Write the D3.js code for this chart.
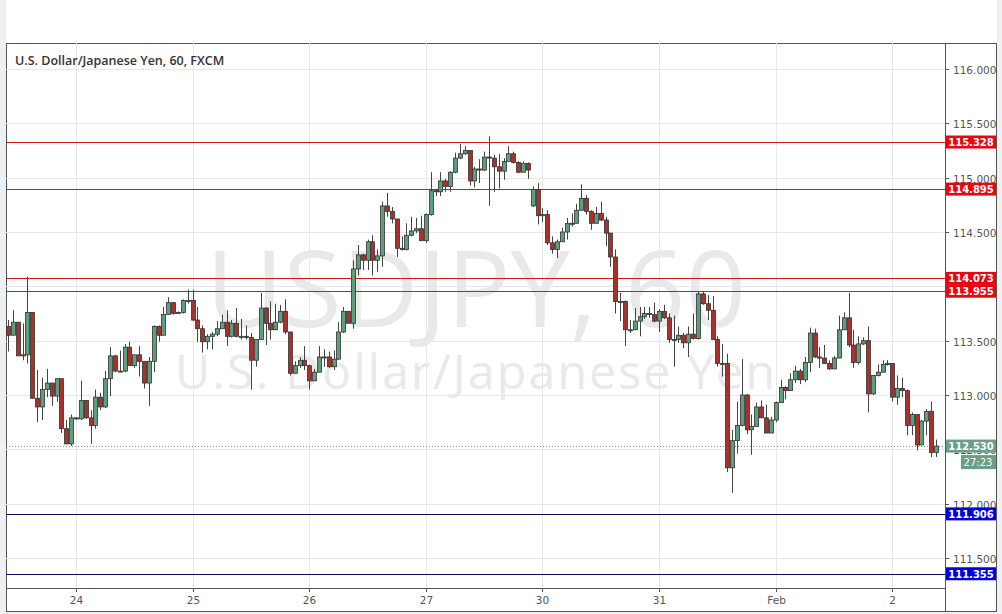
<!DOCTYPE html>
<html><head><meta charset="utf-8">
<script src="https://cdn.jsdelivr.net/npm/d3@7/dist/d3.min.js"></script>
<style>body{margin:0;background:#eef1f4}svg{display:block}</style>
</head><body><svg id="c" width="1002" height="614"></svg>
<script>
const closes=[113.55,113.67,113.36,113.37,113.76,112.97,112.89,113.05,113.11,112.99,113.15,112.69,112.55,112.79,112.78,112.95,112.79,112.72,112.98,112.89,113.15,113.36,113.22,113.22,113.44,113.27,113.37,113.31,113.11,113.31,113.63,113.55,113.74,113.85,113.75,113.76,113.87,113.87,113.69,113.61,
113.49,113.54,113.56,113.61,113.67,113.54,113.66,113.54,113.54,113.53,113.32,113.51,113.80,113.66,113.60,113.67,113.77,113.58,113.20,113.27,113.32,113.27,113.13,113.21,113.35,113.35,113.26,113.33,113.58,113.77,113.66,114.16,
114.29,114.24,114.41,114.24,114.28,114.74,114.69,114.62,114.35,114.34,114.47,114.51,114.53,114.42,114.66,114.88,114.87,114.97,114.92,115.05,115.18,115.22,115.25,114.97,115.08,115.07,115.19,115.18,115.10,115.06,115.15,115.22,115.14,115.05,115.13,115.07,
114.89,114.65,114.66,114.40,114.34,114.41,114.50,114.58,114.58,114.70,114.81,114.69,114.58,114.67,114.61,114.49,114.27,113.86,113.86,113.60,113.60,113.68,113.72,113.75,113.74,113.68,113.77,113.71,113.51,113.51,113.55,113.48,113.56,113.52,113.93,113.84,113.78,113.51,113.29,113.29,
112.33,112.58,112.72,113.00,112.68,112.71,112.89,112.79,112.65,112.77,112.93,113.07,113.04,113.14,113.22,113.14,113.30,113.57,113.35,113.34,113.29,113.24,113.34,113.60,113.71,113.46,113.30,113.47,113.50,113.01,113.18,113.21,113.28,113.29,112.98,113.06,113.04,112.72,112.82,112.54,112.76,112.85,112.47,112.53];
const highs=[113.69,113.78,113.67,113.66,114.09,113.76,113.23,113.16,113.24,113.11,113.15,113.15,112.77,112.82,112.79,113.13,112.95,112.86,113.05,113.02,113.22,113.44,113.37,113.41,113.47,113.49,113.37,113.45,113.31,113.35,113.64,113.64,113.81,113.90,113.85,113.77,113.88,113.97,113.97,113.81,
113.64,113.56,113.58,113.68,113.74,113.78,113.69,113.80,113.70,113.64,113.57,113.51,113.94,113.81,113.86,113.84,113.83,113.88,113.58,113.31,113.35,113.45,113.28,113.24,113.45,113.42,113.40,113.41,113.67,113.81,113.77,114.24,
114.38,114.30,114.43,114.47,114.34,114.78,114.86,114.73,114.62,114.46,114.58,114.64,114.63,114.65,114.67,115.05,114.89,115.05,114.99,115.06,115.23,115.31,115.29,115.25,115.10,115.17,115.24,115.38,115.21,115.22,115.18,115.29,115.24,115.15,115.15,115.14,
114.92,114.95,114.72,114.70,114.46,114.43,114.54,114.63,114.67,114.76,114.94,114.84,114.70,114.73,114.78,114.64,114.49,114.34,113.94,113.87,113.69,113.80,113.81,113.81,113.81,113.85,113.79,113.83,113.75,113.73,113.63,113.57,113.63,113.75,113.95,113.95,113.92,113.91,113.54,113.47,
113.38,112.68,112.94,113.33,113.01,112.82,112.93,112.95,112.91,112.80,112.94,113.14,113.08,113.20,113.27,113.24,113.35,113.62,113.61,113.44,113.46,113.32,113.36,113.73,113.76,113.94,113.60,113.54,113.53,113.63,113.18,113.28,113.32,113.32,113.29,113.18,113.16,113.05,112.84,112.82,112.77,112.87,112.94,112.59];
const lows=[113.40,113.55,113.36,113.32,113.29,112.97,112.75,112.77,112.98,112.90,112.94,112.65,112.55,112.53,112.77,112.77,112.78,112.55,112.69,112.86,112.88,112.99,113.21,113.21,113.21,113.27,113.25,113.17,113.06,112.90,113.21,113.49,113.55,113.74,113.74,113.75,113.75,113.84,113.68,113.49,
113.39,113.42,113.42,113.54,113.61,113.45,113.53,113.53,113.51,113.51,113.05,113.26,113.51,113.46,113.51,113.60,113.66,113.56,113.18,113.20,113.25,113.23,113.05,113.13,113.21,113.26,113.25,113.23,113.32,113.57,113.66,113.61,
114.10,114.15,114.15,114.10,114.13,114.18,114.64,114.58,114.27,114.33,114.33,114.46,114.49,114.42,114.40,114.65,114.83,114.83,114.87,114.87,115.04,115.17,115.21,114.93,114.91,114.95,115.06,114.74,114.87,114.90,114.98,115.15,115.13,115.04,115.05,114.99,
114.73,114.57,114.59,114.38,114.30,114.26,114.41,114.43,114.55,114.58,114.70,114.66,114.52,114.58,114.60,114.37,114.18,113.75,113.68,113.45,113.57,113.61,113.54,113.70,113.71,113.67,113.58,113.70,113.48,113.26,113.48,113.43,113.35,113.51,113.51,113.83,113.69,113.51,113.26,113.17,
112.29,112.10,112.46,112.71,112.64,112.45,112.71,112.79,112.65,112.65,112.75,112.93,112.96,113.04,113.11,113.10,113.12,113.21,113.34,113.25,113.29,113.23,113.24,113.34,113.60,113.44,113.25,113.28,113.46,112.84,113.00,113.17,113.21,113.27,112.94,112.91,112.98,112.63,112.63,112.49,112.54,112.63,112.43,112.43];
const firstOpen=113.63;
const gapIndex=108, gapOpen=114.74;
const dayLabels=['24','25','26','27','30','31','Feb','2'];
const dayIndex=[14,38,62,86,110,134,158,182];
const priceTicks=[111.5,112,112.5,113,113.5,114,114.5,115,115.5,116];
const redLevels=[115.328,114.895,114.073,113.955];
const blueLevels=[111.906,111.355];
const lastPrice=112.530, countdown='27:23';
const title='U.S. Dollar/Japanese Yen, 60, FXCM';

const opens=closes.map((c,i)=>i===0?firstOpen:(i===gapIndex?gapOpen:closes[i-1]));
const svg=d3.select('#c');
const L=6,T=43,R=945,B=588,AR=997,AB=612;
svg.append('rect').attr('x',L).attr('y',0).attr('width',AR-L).attr('height',T).attr('fill','#fff');
svg.append('rect').attr('x',L+.5).attr('y',T+.5).attr('width',AR-L-1).attr('height',AB-T-1).attr('fill','#fff').attr('stroke','#555').attr('stroke-width',1);
const x=d3.scaleLinear().domain([0,191]).range([8,936]);
const y=d3.scaleLinear().domain([111.5,116]).range([558,69]);
const g=svg.append('g');
const py=d=>Math.round(y(d))+.5;
g.selectAll('.hg').data(priceTicks).join('line').attr('x1',L).attr('x2',R).attr('y1',py).attr('y2',py).attr('stroke','#e8e8e8');
g.selectAll('.vg').data(dayIndex).join('line').attr('y1',T).attr('y2',B).attr('x1',d=>Math.round(x(d))+.5).attr('x2',d=>Math.round(x(d))+.5).attr('stroke','#e8e8e8');
g.append('text').attr('x',476).attr('y',327).attr('text-anchor','middle').attr('font-family','Open Sans, sans-serif').attr('font-size',106).attr('fill','#e9e9e9').attr('textLength',540).text('USDJPY, 60');
g.append('text').attr('x',475).attr('y',389).attr('text-anchor','middle').attr('font-family','Open Sans, sans-serif').attr('font-size',48).attr('fill','#e9e9e9').attr('textLength',600).text('U.S. Dollar/Japanese Yen');
g.selectAll('.rl').data(redLevels).join('line').attr('x1',L).attr('x2',R).attr('y1',py).attr('y2',py).attr('stroke','#d21818');
g.selectAll('.bl').data(blueLevels).join('line').attr('x1',L).attr('x2',R).attr('y1',py).attr('y2',py).attr('stroke','#10105a');
g.append('line').attr('x1',L).attr('x2',R).attr('y1',py(lastPrice)).attr('y2',py(lastPrice)).attr('stroke','#6a9e86').attr('stroke-dasharray','1,2');
const cd=g.selectAll('.cd').data(closes.map((c,i)=>({i,o:opens[i],c,h:highs[i],l:lows[i]}))).join('g');
cd.append('line').attr('x1',d=>Math.round(x(d.i))+.5).attr('x2',d=>Math.round(x(d.i))+.5).attr('y1',d=>y(d.h)).attr('y2',d=>y(d.l)).attr('stroke','#444');
cd.append('rect').attr('x',d=>Math.round(x(d.i))-1.5).attr('width',4)
 .attr('y',d=>y(Math.max(d.o,d.c))).attr('height',d=>Math.max(1,Math.abs(y(d.o)-y(d.c))))
 .attr('fill',d=>d.c>=d.o?'#5f9e7c':'#a8302d').attr('stroke','#333').attr('stroke-width',0.8);
const ya=svg.append('g').attr('transform',`translate(${R},0)`);
ya.append('line').attr('x1',.5).attr('x2',.5).attr('y1',T).attr('y2',AB).attr('stroke','#555');
ya.selectAll('.t').data(priceTicks).join('g').each(function(d){
 const s=d3.select(this),yy=py(d);
 s.append('line').attr('x1',0).attr('x2',4).attr('y1',yy).attr('y2',yy).attr('stroke','#555');
 s.append('text').attr('x',8).attr('y',yy+4).attr('font-family','DejaVu Sans, sans-serif').attr('font-size',10.5).attr('fill','#555').text(d3.format('.3f')(d));
});
function tag(v,bg,txt){const yy=y(v);
 ya.append('rect').attr('x',1).attr('y',yy-6.5).attr('width',50).attr('height',13).attr('fill',bg);
 ya.append('text').attr('x',26).attr('y',yy+4).attr('text-anchor','middle').attr('font-family','DejaVu Sans, sans-serif').attr('font-weight','bold').attr('font-size',10).attr('fill','#fff').text(txt);}
redLevels.forEach(v=>tag(v,'#e8060f',d3.format('.3f')(v)));
blueLevels.forEach(v=>tag(v,'#0000dd',d3.format('.3f')(v)));
tag(lastPrice,'#6a9e86',d3.format('.3f')(lastPrice));
ya.append('rect').attr('x',16).attr('y',y(lastPrice)+9).attr('width',35).attr('height',14).attr('fill','#6a9e86');
ya.append('text').attr('x',33).attr('y',y(lastPrice)+20).attr('text-anchor','middle').attr('font-family','DejaVu Sans, sans-serif').attr('font-size',10).attr('fill','#fff').text(countdown);
const xa=svg.append('g');
xa.append('line').attr('x1',L).attr('x2',R).attr('y1',B+.5).attr('y2',B+.5).attr('stroke','#555');
dayIndex.forEach((d,k)=>{const xx=Math.round(x(d))+.5;
 xa.append('line').attr('x1',xx).attr('x2',xx).attr('y1',B).attr('y2',B+4).attr('stroke','#555');
 xa.append('text').attr('x',xx).attr('y',B+16).attr('text-anchor','middle').attr('font-family','DejaVu Sans, sans-serif').attr('font-size',10.5).attr('fill','#555').text(dayLabels[k]);});
svg.append('text').attr('x',15).attr('y',65).attr('font-family','Open Sans, sans-serif').attr('font-weight','600').attr('font-size',12.5).attr('fill','#333').text(title);
</script></body></html>
